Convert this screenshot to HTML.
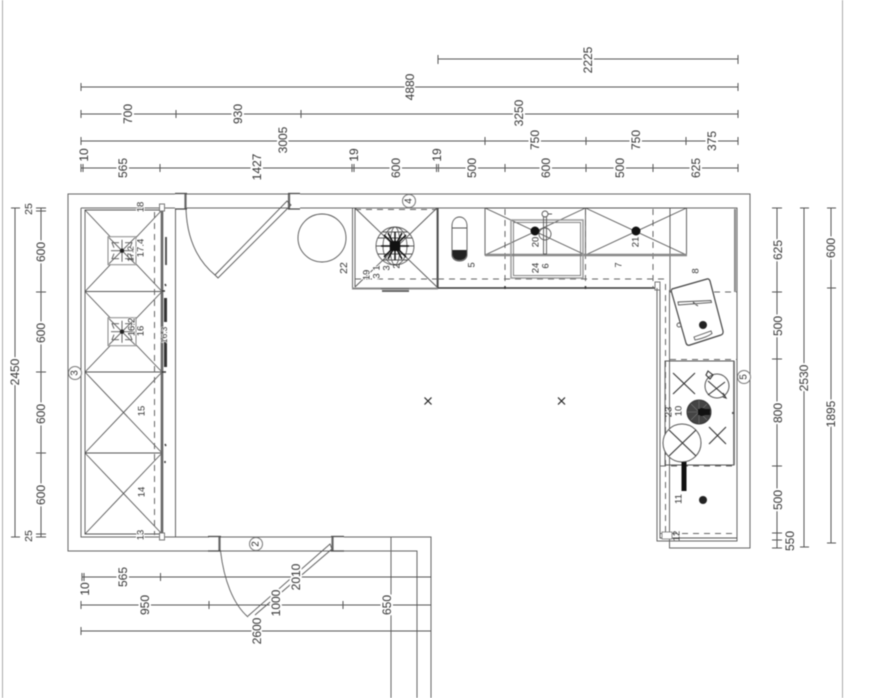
<!DOCTYPE html>
<html><head><meta charset="utf-8"><style>
html,body{margin:0;padding:0;background:#fff;width:873px;height:698px;overflow:hidden}
svg{display:block;filter:blur(.45px)}
.w{stroke:#666;stroke-width:1;fill:none}
.l{stroke:#555;stroke-width:.9;fill:none}
.d{stroke:#555;stroke-width:1;fill:none}
.da{stroke:#666;stroke-width:1;fill:none;stroke-dasharray:6 5}
.g{stroke:#888;stroke-width:2.4;fill:none}
.j{stroke:#444;stroke-width:1.2;fill:none}
.jt{stroke:#666;stroke-width:2.2;fill:none}
.k{stroke:#222;stroke-width:1.2;fill:none}
text{font-family:"Liberation Sans",sans-serif;font-size:12px;fill:#333;text-anchor:middle;dominant-baseline:central;paint-order:stroke;stroke:#fff;stroke-width:4px;stroke-linejoin:round}
text.n{stroke-width:2px;font-size:9.5px}
</style></head><body>
<svg width="873" height="698" viewBox="0 0 873 698" xmlns="http://www.w3.org/2000/svg">
<defs>
<g id="burner">
<rect x="-14" y="-14" width="28" height="28" fill="#fff" stroke="#888" stroke-width="1"/>
<path d="M-13-13L13 13M13-13L-13 13M0-11V11M-11 0H11M-8-3L-10-8L-3-8M8-3L10-8L3-8M-8 3L-10 8L-3 8M8 3L10 8L3 8" stroke="#555" stroke-width=".9" fill="none"/>
<circle r="2.2" fill="#222"/>
</g>
</defs>

<!-- page borders -->
<path d="M2.5 0V698M842.5 0V698" stroke="#aaa" stroke-width="1" fill="none"/>

<!-- walls -->
<path class="w" d="M175 194H68V551H209M220 551H331M344 551H417V698M186 194H288M300 194H750V548H669.5V290"/>
<path class="w" d="M81 208H175M186 208H288M300 208H737V541H657V288"/>
<path class="w" d="M81 208V537H209M220 537H331M344 537H431V698M391 537V698"/>
<path class="l" d="M175.500 209V537"/>
<path class="l" d="M660 290V538H737"/>
<path class="g" d="M735 209V292" style="stroke-width:2"/>

<!-- door jambs -->
<path class="jt" d="M185.500 194V209M289 194V209M219.500 537V551M332.500 537V551"/>
<path class="j" d="M175 193.500H187M175 209H187M288 193.500H300M288 209H300M208 536.500H221M208 551H221M331 536.500H344M331 551H344"/>

<!-- top door -->
<path class="l" d="M186 209C187 238 197 260 215 275"/>
<path class="l" d="M215 275L287 201L291 205L218 278Z"/>
<!-- bottom door -->
<path class="l" d="M220.500 551C224 580 233 604 248 617"/>
<path class="l" d="M248 616L330 544L332 549L255 615"/>

<!-- table -->
<circle cx="322" cy="238" r="24" class="l"/>

<!-- left cabinets -->
<path class="l" d="M85 210H162V534H85ZM85 291.500H162M85 372H162M85 453H162"/>
<path class="l" d="M85 210L162 291.500M162 210L85 291.500M85 291.500L162 372M162 291.500L85 372M85 372L162 453M162 372L85 453M85 453L162 534M162 453L85 534"/>
<path class="da" d="M154.500 212V535"/>
<path d="M162 205V540" stroke="#666" stroke-width="2.6" fill="none"/>
<rect x="159.500" y="204" width="5" height="7" fill="#fff" stroke="#777"/>
<rect x="159.500" y="533" width="5" height="7" fill="#fff" stroke="#777"/>
<use href="#burner" x="122" y="250.700"/>
<use href="#burner" x="122" y="331.700"/>
<path d="M166 237V265" stroke="#444" stroke-width="1.800" fill="none"/>
<path d="M165.500 298V322M165.500 342V367" stroke="#333" stroke-width="3" fill="none"/>
<path d="M162 291H165M162 372H166" stroke="#333" stroke-width="1.500" fill="none"/>
<path d="M165 284l1 2M165 444l1 2M165 461v2" stroke="#333" stroke-width="1.500" fill="none"/>

<!-- cabinet 4 -->
<path class="l" d="M355 208V287M352.500 208V288M437 208V288"/>
<path d="M352 288.500H438" stroke="#888" stroke-width="2"/>
<path class="da" d="M355 209.500H437M355 279H437"/>
<path class="l" d="M355 208L437 287M437 208L355 287"/>
<circle cx="395" cy="246" r="19" class="l"/>
<ellipse cx="395" cy="246" rx="12" ry="19" class="l"/>
<ellipse cx="395" cy="246" rx="5" ry="19" class="l"/>
<path class="l" d="M376 246H414M378 238H412M378 254H412M382 232H408M382 260H408"/>
<path d="M384 235L406 257M406 235L384 257M395 232V260M381 246H409M388 233L402 259M402 233L388 259" stroke="#111" stroke-width="1.500"/>
<rect x="390" y="241" width="10" height="10" fill="#111"/>
<path d="M381 289H409" stroke="#666" stroke-width="1"/><path d="M382 291H409" stroke="#555" stroke-width="1.800"/>

<!-- back counter -->
<path d="M438 208V288" stroke="#444" stroke-width="1.200"/>
<path d="M438 288H655" stroke="#333" stroke-width="1.500"/>
<path class="da" d="M438 279H665"/>
<path class="da" d="M505 209V288M585.500 209V288M653 209V288"/>
<path d="M505 286v3M585.500 286v3" stroke="#333" stroke-width="1.500"/>
<path class="l" d="M670 208V292"/>
<!-- wall units -->
<path class="l" d="M485 208H686.500V255H485ZM585.500 208V255"/>
<path class="l" d="M485 208L585.500 255M585.500 208L485 255M585.500 208L686.500 255M686.500 208L585.500 255"/>
<path d="M485 255H687" stroke="#888" stroke-width="2.400"/>
<circle cx="535" cy="231" r="4.500" fill="#111"/>
<circle cx="636" cy="231" r="4.500" fill="#111"/>
<!-- sink -->
<rect x="511" y="220" width="72" height="58" fill="none" stroke="#999" stroke-width="1.500"/>
<rect x="513.500" y="222.500" width="67" height="53" fill="none" stroke="#777" stroke-width=".9"/>
<circle cx="545" cy="214" r="3" class="l"/>
<circle cx="545" cy="234" r="6" class="l"/>
<path class="l" d="M543.500 217V254H546.500V217M548 214H552"/>
<!-- capsule -->
<path class="l" d="M452 226C452 214 467 214 467 226V255C467 263 452 263 452 255Z M452 228H467"/>
<path d="M452.500 250H466.500V255C466 262 453 262 452.500 255Z" fill="#222"/>

<!-- right cabinets -->
<rect x="655" y="282" width="5" height="8" fill="#fff" stroke="#777"/>
<path class="da" d="M665.500 284V535"/>
<path class="da" d="M670 292H737M670 359.500H737M660 466H737M660 533.500H737"/>
<path d="M657 288V541M660 290V535" stroke="#666" stroke-width="1"/>
<path class="l" d="M665 361H734V465H665Z"/>
<path d="M734 361V465" stroke="#666" stroke-width="1.600"/>
<path d="M733 412v2" stroke="#555" stroke-width="2"/>
<!-- cutting board -->
<path d="M672 289L707 279Q709 278.500 710 281L723 331Q723.500 334 721 335L690 345Q687 346 686 343L671.500 292Q671 290 672 289Z" fill="#fff" stroke="#444" stroke-width="1.200"/>
<path class="l" d="M678 302L711 300.500L711.500 302.500L678.500 305ZM693 302L698 306L693 303"/>
<path class="l" d="M694 337L711 331L712 333.500C706 338 699 339 695 340Z"/>
<circle cx="679" cy="325" r="2" class="l"/>
<circle cx="703" cy="325" r="4" fill="#222"/>
<!-- hob -->
<path d="M673 373L695 394M695 373L673 394" stroke="#333" stroke-width="1.100"/>
<circle cx="717" cy="386" r="12" fill="none" stroke="#555"/>
<path d="M708 371L713 375L710 379L706 375ZM708 395L725 382M708 381L725 396M723 393L726 398L723 397" stroke="#333" fill="none" stroke-width="1.100"/>
<circle cx="699" cy="412" r="12" fill="#444" stroke="#333"/>
<path d="M687 412H711M699 400V424M691 404L707 420M707 404L691 420" stroke="#777" stroke-width=".6"/>
<circle cx="702" cy="412" r="4" fill="#111"/><rect x="698" y="409" width="12" height="6" fill="#111"/>
<path d="M709 427L726 444M726 427L709 444" stroke="#333" stroke-width="1.100"/>
<circle cx="682" cy="443" r="19" fill="#fff" stroke="#555"/>
<path d="M669 430L696 456M696 430L669 456" stroke="#333" stroke-width="1.100"/>
<rect x="681.500" y="462" width="5" height="29" fill="#111"/>
<circle cx="703" cy="500" r="4" fill="#222"/>
<!-- bottom details -->
<rect x="662" y="532" width="10" height="7" fill="#fff" stroke="#777" stroke-width=".8"/>

<!-- x marks -->
<path class="k" d="M424.500 397.500L431.500 404.500M431.500 397.500L424.500 404.500M558 397.500L565 404.500M565 397.500L558 404.500"/>

<!-- top dimensions -->
<path class="d" d="M438 59H738M438 55V64M738 55V64"/>
<path class="d" d="M81 87H738M81 83V91M738 83V91" stroke="#888"/>
<path class="d" d="M81 114H738M81 110V118M176 110V118M301 110V118M738 110V118"/>
<path class="d" d="M81 141H738M81 137V145M485 137V145M586 137V145M686 137V145M738 137V145"/>
<path class="d" d="M81 168H738M81 164V172M83 164V172M160 164V172M352 164V172M354 164V172M436.500 164V172M438.500 164V172M505 164V172M586 164V172M653 164V172M738 164V172"/>
<text transform="translate(588 60) rotate(-90)">2225</text>
<text transform="translate(410 87) rotate(-90)">4880</text>
<text transform="translate(128 114) rotate(-90)">700</text>
<text transform="translate(238 114) rotate(-90)">930</text>
<text transform="translate(519 113) rotate(-90)">3250</text>
<text transform="translate(283 140) rotate(-90)">3005</text>
<text transform="translate(535 140) rotate(-90)">750</text>
<text transform="translate(636 140) rotate(-90)">750</text>
<text transform="translate(712 141) rotate(-90)">375</text>
<text transform="translate(84 155) rotate(-90)" style="stroke-width:0">10</text>
<text transform="translate(123 168) rotate(-90)">565</text>
<text transform="translate(257 167) rotate(-90)">1427</text>
<text transform="translate(354 155) rotate(-90)" style="stroke-width:0">19</text>
<text transform="translate(396 168) rotate(-90)">600</text>
<text transform="translate(437 155) rotate(-90)" style="stroke-width:0">19</text>
<text transform="translate(472 168) rotate(-90)">500</text>
<text transform="translate(546 168) rotate(-90)">600</text>
<text transform="translate(620 168) rotate(-90)">500</text>
<text transform="translate(696 168) rotate(-90)">625</text>

<!-- left dimensions -->
<path class="d" d="M15 208V537M11 208H20M11 537H20"/>
<path class="d" d="M41 208V537M36 208H46M36 211H46M36 292H46M36 372H46M36 453H46M36 534H46M36 537H46" stroke="#777"/>
<text transform="translate(15 372) rotate(-90)">2450</text>
<text transform="translate(29 209) rotate(-90)" style="stroke-width:0;font-size:10.500px">25</text>
<text transform="translate(41 252) rotate(-90)">600</text>
<text transform="translate(41 333) rotate(-90)">600</text>
<text transform="translate(41 414) rotate(-90)">600</text>
<text transform="translate(41 495) rotate(-90)">600</text>
<text transform="translate(29 536) rotate(-90)" style="stroke-width:0;font-size:10.500px">25</text>

<!-- right dimensions -->
<path class="d" d="M777 208V548M772 208H782M772 292H782M772 359H782M772 466H782M772 533H782M772 540H782M772 548H782"/>
<path class="d" d="M804 208V547M800 208H809M800 547H809"/>
<path class="d" d="M831 208V543M827 208H836M827 288H836M827 543H836"/>
<text transform="translate(778 250) rotate(-90)">625</text>
<text transform="translate(778 326) rotate(-90)">500</text>
<text transform="translate(778 413) rotate(-90)">800</text>
<text transform="translate(778 500) rotate(-90)">500</text>
<text transform="translate(790 541) rotate(-90)" style="stroke-width:0">550</text>
<text transform="translate(804 378) rotate(-90)">2530</text>
<text transform="translate(831 248) rotate(-90)">600</text>
<text transform="translate(831 414) rotate(-90)">1895</text>

<!-- bottom dimensions -->
<path class="d" d="M82 577H431M82 573V581M84 573V581M160.500 573V581"/>
<path class="d" d="M81 605H431M81 601V609M209 601V609M343 601V609"/>
<path class="d" d="M81 631H431M81 627V635"/>
<text transform="translate(85 589) rotate(-90)" style="stroke-width:0">10</text>
<text transform="translate(123 577) rotate(-90)">565</text>
<text transform="translate(145 605) rotate(-90)">950</text>
<text transform="translate(387 605) rotate(-90)">650</text>
<text transform="translate(276 603) rotate(-90)">1000</text>
<text transform="translate(296 577) rotate(-90)">2010</text>
<text transform="translate(257 631) rotate(-90)">2600</text>

<!-- item labels -->
<text class="n" transform="translate(141 207) rotate(-90)">18</text>
<text class="n" transform="translate(141 248) rotate(-90)">17.4</text>
<text class="n" transform="translate(131 254) rotate(-90)" style="stroke-width:0;font-size:8px">17.2</text>
<text class="n" transform="translate(132 327) rotate(-90)" style="stroke-width:1px">16.2</text>
<text class="n" transform="translate(141 331) rotate(-90)">16</text>
<text class="n" transform="translate(164 335) rotate(-90)" style="font-size:8.500px;stroke-width:1px">16.3</text>
<text class="n" transform="translate(142 411) rotate(-90)">15</text>
<text class="n" transform="translate(142 492) rotate(-90)">14</text>
<text class="n" transform="translate(141 535) rotate(-90)">13</text>
<text class="n" transform="translate(344 268) rotate(-90)" style="font-size:10.500px">22</text>
<text class="n" transform="translate(367 275) rotate(-90)">19</text>
<text class="n" transform="translate(377 272) rotate(-90)">3 1</text>
<text class="n" transform="translate(387 268) rotate(-90)" style="stroke-width:0">3</text>
<text class="n" transform="translate(397 266) rotate(-90)" style="stroke-width:0">2</text>
<text class="n" transform="translate(536 242) rotate(-90)">20</text>
<text class="n" transform="translate(636 242) rotate(-90)">21</text>
<text class="n" transform="translate(536 268) rotate(-90)">24</text>
<text class="n" transform="translate(546 266) rotate(-90)">6</text>
<text class="n" transform="translate(472 265) rotate(-90)">5</text>
<text class="n" transform="translate(619 265) rotate(-90)">7</text>
<text class="n" transform="translate(696 271) rotate(-90)">8</text>
<text class="n" transform="translate(669 412) rotate(-90)" style="stroke-width:0">23</text>
<text class="n" transform="translate(679 411) rotate(-90)" style="stroke-width:0">10</text>
<text class="n" transform="translate(679 499) rotate(-90)">11</text>
<text class="n" transform="translate(677 536) rotate(-90)" style="stroke-width:0">12</text>

<!-- circled labels -->
<g fill="#fff" stroke="#777">
<circle cx="409" cy="201" r="6.500"/><circle cx="75" cy="373" r="6.500"/><circle cx="744" cy="377" r="6.500"/><circle cx="256" cy="544" r="6.500"/>
</g>
<text transform="translate(409 201) rotate(-90)" style="stroke-width:0;font-size:10px">4</text>
<text transform="translate(75 373) rotate(-90)" style="stroke-width:0;font-size:10px">3</text>
<text transform="translate(744 377) rotate(-90)" style="stroke-width:0;font-size:10px">5</text>
<text transform="translate(256 544) rotate(-90)" style="stroke-width:0;font-size:10px">2</text>
</svg>
</body></html>
